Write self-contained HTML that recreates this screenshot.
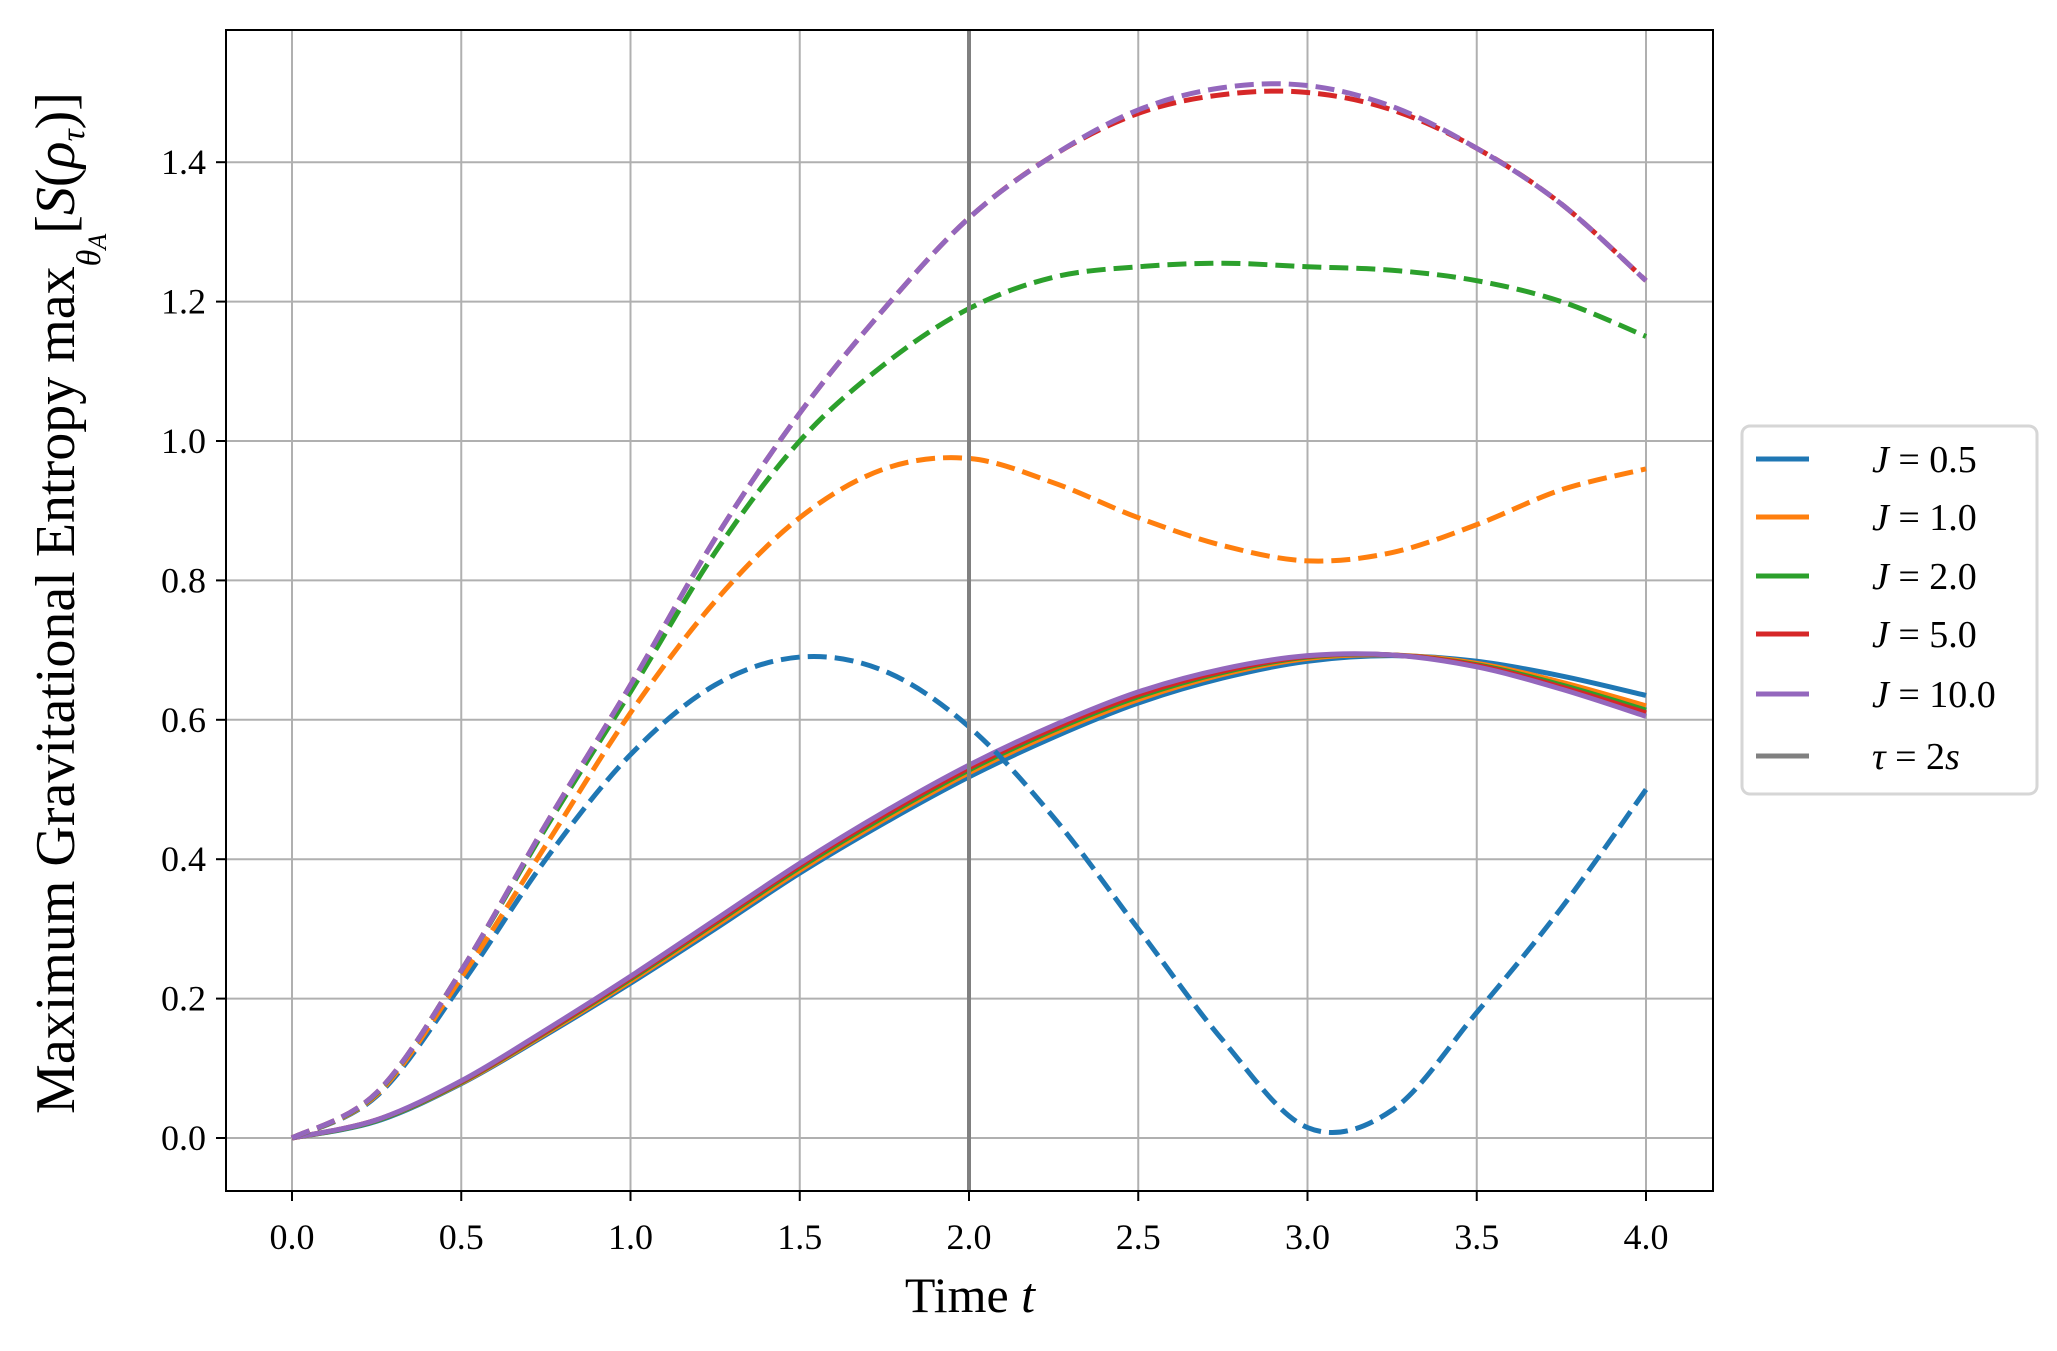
<!DOCTYPE html>
<html><head><meta charset="utf-8"><style>
body{margin:0;background:#fff}
svg{display:block;font-family:"Liberation Serif",serif}
</style></head><body>
<svg id="chart" width="2057" height="1351" viewBox="0 0 2057 1351">
<g id="grid"></g>
<g id="series"></g>
<rect x="226" y="30" width="1487" height="1161" fill="none" stroke="#000" stroke-width="2"/>
<g id="ticks"></g>
<text x="970" y="1312" font-size="50" text-anchor="middle">Time <tspan font-style="italic">t</tspan></text>
<text transform="translate(74,603) rotate(-90)" font-size="56" text-anchor="middle">Maximum Gravitational Entropy max<tspan font-size="34" font-style="italic" dy="26">θ<tspan font-size="26" dy="6">A</tspan></tspan><tspan dy="-32">[</tspan><tspan font-style="italic">S</tspan>(<tspan font-style="italic">ρ</tspan><tspan font-size="34" font-style="italic" dy="10">τ</tspan><tspan dy="-10">)]</tspan></text>
<g>
<rect x="1742" y="426" width="295" height="368" rx="8" fill="#fff" stroke="#d6d6d6" stroke-width="3"/>
<g id="legend"></g>
</g>
</svg>
<script>
const xTicks=[0,0.5,1.0,1.5,2.0,2.5,3.0,3.5,4.0];
const yTicks=[0,0.2,0.4,0.6,0.8,1.0,1.2,1.4];
const tVals=[0,0.25,0.5,0.75,1.0,1.25,1.5,1.75,2.0,2.25,2.5,2.75,3.0,3.25,3.5,3.75,4.0];
const solid05=[0,0.024,0.078,0.148,0.222,0.300,0.380,0.452,0.518,0.575,0.624,0.660,0.684,0.692,0.684,0.663,0.635];
const solid10=[0,0.025,0.079,0.150,0.225,0.304,0.384,0.457,0.524,0.581,0.629,0.665,0.688,0.693,0.681,0.654,0.620];
const solid20=[0,0.025,0.080,0.152,0.228,0.308,0.388,0.461,0.528,0.585,0.633,0.668,0.690,0.693,0.679,0.650,0.614];
const solid50=[0,0.026,0.081,0.153,0.230,0.310,0.391,0.464,0.531,0.588,0.636,0.670,0.691,0.693,0.678,0.647,0.610];
const solid100=[0,0.026,0.082,0.155,0.232,0.313,0.394,0.468,0.535,0.592,0.640,0.673,0.692,0.693,0.676,0.644,0.605];
const dash05=[0,0.06,0.22,0.40,0.55,0.65,0.69,0.67,0.59,0.46,0.30,0.14,0.015,0.04,0.18,0.33,0.50];
const dash10=[0,0.062,0.23,0.42,0.61,0.77,0.89,0.96,0.975,0.94,0.89,0.85,0.828,0.84,0.88,0.93,0.96];
const dash20=[0,0.064,0.24,0.445,0.64,0.84,1.0,1.11,1.19,1.235,1.25,1.255,1.25,1.245,1.23,1.2,1.15];
const dash50=[0,0.065,0.24,0.45,0.65,0.86,1.04,1.19,1.32,1.41,1.47,1.497,1.50,1.475,1.42,1.34,1.23];
const dash100=[0,0.065,0.24,0.45,0.65,0.86,1.04,1.19,1.32,1.41,1.475,1.507,1.51,1.48,1.42,1.34,1.23];
const labels=["J = 0.5","J = 1.0","J = 2.0","J = 5.0","J = 10.0"];
const colors=["#1f77b4","#ff7f0e","#2ca02c","#d62728","#9467bd"];
const tauX=2.0;

const NS="http://www.w3.org/2000/svg";
const X=v=>292+v*338.5, Y=v=>1138-v*697;
function mk(tag,attrs,parent){const e=document.createElementNS(NS,tag);for(const k in attrs)e.setAttribute(k,attrs[k]);parent.appendChild(e);return e;}
const grid=document.getElementById('grid'),ticks=document.getElementById('ticks'),ser=document.getElementById('series'),leg=document.getElementById('legend');
xTicks.forEach(v=>{
 const l=mk('line',{x1:X(v),x2:X(v),y1:30,y2:1191,stroke:'#b0b0b0','stroke-width':2},grid);
 
 
 const t=mk('line',{x1:X(v),x2:X(v),y1:1191,y2:1201,stroke:'#000','stroke-width':2},ticks);
 
 
 const tx=mk('text',{x:X(v),y:1249,'font-size':36,'text-anchor':'middle'},ticks);tx.textContent=v.toFixed(1);
 
 
});
yTicks.forEach(v=>{
 const l=mk('line',{x1:226,x2:1713,y1:Y(v),y2:Y(v),stroke:'#b0b0b0','stroke-width':2},grid);
 
 
 const t=mk('line',{x1:216,x2:226,y1:Y(v),y2:Y(v),stroke:'#000','stroke-width':2},ticks);
 
 
 const tx=mk('text',{x:206,y:Y(v)+12,'font-size':36,'text-anchor':'end'},ticks);tx.textContent=v.toFixed(1);
 
 
});
function path(vals){
 const p=tVals.map((t,i)=>[X(t),Y(vals[i])]);
 let d=`M${p[0][0]},${p[0][1]}`;
 for(let i=0;i<p.length-1;i++){
  const p0=p[Math.max(i-1,0)],p1=p[i],p2=p[i+1],p3=p[Math.min(i+2,p.length-1)];
  d+=` C${p1[0]+(p2[0]-p0[0])/6},${p1[1]+(p2[1]-p0[1])/6} ${p2[0]-(p3[0]-p1[0])/6},${p2[1]-(p3[1]-p1[1])/6} ${p2[0]},${p2[1]}`;
 }
 return d;
}
const solids=[solid05,solid10,solid20,solid50,solid100],dashes=[dash05,dash10,dash20,dash50,dash100];
solids.forEach((s,i)=>{
 const e=mk('path',{d:path(s),fill:'none',stroke:colors[i],'stroke-width':5},ser);
 
 
});
dashes.forEach((s,i)=>{
 const e=mk('path',{d:path(s),fill:'none',stroke:colors[i],'stroke-width':5,'stroke-dasharray':'19 8'},ser);
 
 
});
const tau=mk('line',{x1:X(tauX),x2:X(tauX),y1:30,y2:1191,stroke:'#808080','stroke-width':4},ser);


const legY=[459,517,576,634,694,756];
labels.concat(['τ = 2s']).forEach((lab,i)=>{
 const c=i<5?colors[i]:'#808080';
 const l=mk('line',{x1:1756,x2:1809,y1:legY[i],y2:legY[i],stroke:c,'stroke-width':5},leg);
 
 
 const t=mk('text',{x:1872,y:legY[i]+13,'font-size':38},leg);
 const parts=lab.split(' = ');
 const a=mk('tspan',{'font-style':'italic'},t);a.textContent=parts[0];
 const b=mk('tspan',{},t);
 if(i<5){b.textContent=' = '+parts[1];}else{b.textContent=' = 2';const s=mk('tspan',{'font-style':'italic'},t);s.textContent='s';}
 
 
});
</script>
</body></html>
